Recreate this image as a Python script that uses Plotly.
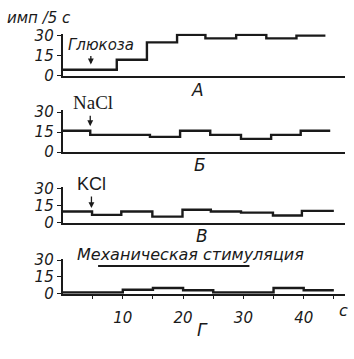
import plotly.graph_objects as go

W, H = 354, 359

# ---- data ----
y_ticks = [0, 15, 30]
x_tick_vals = [5, 10, 15, 20, 25, 30, 35, 40, 45]
x_tick_text = ["", "10", "", "20", "", "30", "", "40", ""]

gluc_edges = [0, 9, 14, 19, 23.7, 28.8, 33.8, 38.8, 43.6]
gluc_vals = [4.5, 12, 25, 30.7, 28, 30.7, 28, 30]

nacl_edges = [0, 4.6, 14.5, 19.5, 24.5, 29.6, 34.6, 39.5, 44.4]
nacl_vals = [16, 13, 11.5, 16, 13, 10, 13, 16]

kcl_edges = [0, 4.9, 9.75, 14.9, 19.9, 24.6, 29.6, 34.9, 39.7, 45]
kcl_vals = [10, 7, 10, 5.5, 11.5, 10, 9, 6.5, 10.5]

mech_edges = [0, 10, 15, 20, 25, 35, 40, 45]
mech_vals = [1, 3.5, 5, 3, 1, 5, 3]

panel_letters = ["А", "Б", "В", "Г"]
stim_names = ["Глюкоза", "NaCl", "KCl", "Механическая стимуляция"]
stim_times = [4.7, 4.6, 4.8]
mech_bar = [5.9, 31]

# ---- layout geometry (pixel positions of value 0 and value 30) ----
panels_px = [(72, 30), (152, 110), (226, 190), (300, 265)]
x0_px, x1_px, px_per_s = 62.5, 345, 6.03
YMAX = 31.5

INK = "#1a1a1a"
FONT_IT = dict(family="DejaVu Sans", size=15, color=INK, style="italic")

fig = go.Figure()
series = [(gluc_edges, gluc_vals), (nacl_edges, nacl_vals),
          (kcl_edges, kcl_vals), (mech_edges, mech_vals)]

layout = dict(
    width=W, height=H, margin=dict(l=0, r=0, t=0, b=0),
    paper_bgcolor="white", plot_bgcolor="white", showlegend=False,
)
xdom = [x0_px / W, x1_px / W]
xrange = [0, (x1_px - x0_px) / px_per_s]

for i, ((edges, vals), (zp, tp)) in enumerate(zip(series, panels_px)):
    n = i + 1
    xa = "x" if n == 1 else f"x{n}"
    ya = "y" if n == 1 else f"y{n}"
    fig.add_trace(go.Scatter(
        x=edges, y=list(vals) + [vals[-1]], mode="lines", line_shape="hv",
        line=dict(color=INK, width=2.4), xaxis=xa, yaxis=ya, hoverinfo="skip"))
    top_px = zp - (zp - tp) * YMAX / 30
    ydom = [1 - zp / H, 1 - top_px / H]
    last = (n == 4)
    layout["xaxis" if n == 1 else f"xaxis{n}"] = dict(
        domain=xdom, range=xrange, anchor=ya, showgrid=False, zeroline=False,
        showline=True, linecolor=INK, linewidth=1.6,
        ticks="outside" if last else "", ticklen=4, tickcolor=INK, tickwidth=1.3,
        tickvals=x_tick_vals if last else [], ticktext=x_tick_text if last else [],
        showticklabels=last, ticklabelstandoff=6, tickfont=dict(FONT_IT, size=15))
    layout["yaxis" if n == 1 else f"yaxis{n}"] = dict(
        domain=ydom, range=[0, YMAX], anchor=xa, showgrid=False, zeroline=False,
        showline=True, linecolor=INK, linewidth=1.6,
        ticks="outside", ticklen=4, tickcolor=INK, tickwidth=1.3,
        tickvals=y_ticks, tickfont=dict(FONT_IT, size=15))

fig.update_layout(**layout)


def P(px, py):
    return px / W, 1 - py / H


ann = []
# y-axis unit label
x, y = P(5, 12)
ann.append(dict(text="имп /5 с", xref="paper", yref="paper", x=x, y=y,
                xanchor="left", yanchor="middle", showarrow=False, font=FONT_IT))
# panel letters
letter_px = [(197, 87), (200, 165), (202, 240), (202, 338)]
for L, (lx, ly) in zip(panel_letters, letter_px):
    x, y = P(lx, ly)
    ann.append(dict(text=L, xref="paper", yref="paper", x=x, y=y,
                    xanchor="center", yanchor="middle", showarrow=False,
                    font=dict(FONT_IT, size=17)))
# seconds unit
x, y = P(343, 318)
ann.append(dict(text="с", xref="paper", yref="paper", x=x, y=y,
                xanchor="center", yanchor="middle", showarrow=False,
                font=dict(FONT_IT, size=16)))
# stimulus labels
label_specs = [
    ((66, 40), dict(FONT_IT, size=15)),
    ((71, 100), dict(family="Liberation Serif", size=19, color=INK)),
    ((75, 185), dict(family="Liberation Sans", size=18, color=INK)),
    ((75, 259), dict(FONT_IT, size=16)),
]
for name, ((lx, ly), f) in zip(stim_names, label_specs):
    x, y = P(lx, ly)
    ann.append(dict(text=name, xref="paper", yref="paper", x=x, y=y,
                    xanchor="left", yanchor="middle", showarrow=False, font=f))
# arrows
for t, (xr, yr, tip, ln) in zip(stim_times, [("x", "y", 8.5, 10), ("x2", "y2", 19.5, 12),
                                          ("x3", "y3", 13, 13)]):
    ann.append(dict(text="", xref=xr, yref=yr, x=t, y=tip, ax=0, ay=-ln,
                    showarrow=True, arrowhead=2, arrowsize=0.9, arrowwidth=1.3,
                    arrowcolor=INK))
fig.update_layout(annotations=ann)

# mechanical stimulation bar
fig.add_shape(type="line", xref="x4", yref="y4", x0=mech_bar[0], x1=mech_bar[1],
              y0=24.8, y1=24.8, line=dict(color=INK, width=2))

fig.write_html("out.html")
